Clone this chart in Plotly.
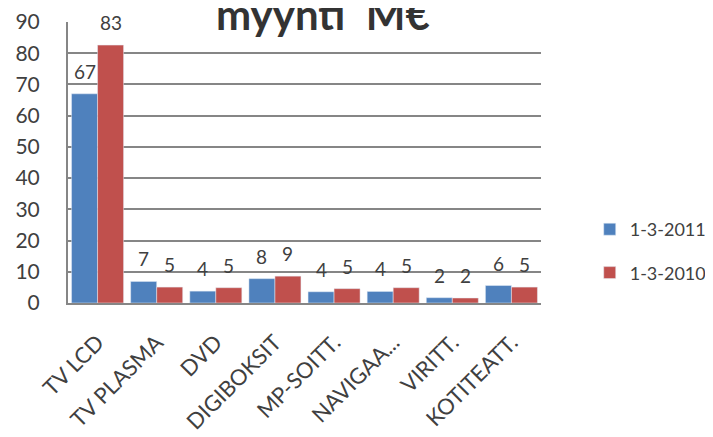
import plotly.graph_objects as go

# Sales by product group, M€
categories = ["TV LCD", "TV PLASMA", "DVD", "DIGIBOKSIT", "MP-SOITT.",
              "NAVIGAA...", "VIRITT.", "KOTITEATT."]
sales_2011 = [67.0, 6.9, 3.8, 7.8, 3.6, 3.7, 1.7, 5.6]
sales_2010 = [82.6, 5.1, 4.9, 8.6, 4.6, 4.9, 1.6, 5.1]
series_names = ["1-3-2011", "1-3-2010"]

FONT = "Lato, 'Open Sans', sans-serif"
TEXT = "#404040"
GRID = "#868686"

fig = go.Figure()
fig.add_trace(go.Bar(x=categories, y=sales_2011, name=series_names[0],
                     marker=dict(color="#4F81BD"), legendgroup="a"))
fig.add_trace(go.Bar(x=categories, y=sales_2010, name=series_names[1],
                     marker=dict(color="#C0504D"), legendgroup="b"))

# value labels above each bar
for vals, shift in [(sales_2011, -13), (sales_2010, 13)]:
    for cat, v in zip(categories, vals):
        fig.add_annotation(x=cat, y=v, text=f"{v:.0f}", showarrow=False,
                           xshift=shift, yshift=9, yanchor="bottom",
                           font=dict(size=19, color=TEXT, family=FONT))

# chart title, sitting on the top gridline like the original
fig.add_annotation(text="<b>myynti  M€</b>", xref="paper", yref="paper",
                   x=0.539, y=1, xanchor="center", yanchor="bottom",
                   yshift=-19, showarrow=False,
                   font=dict(size=42, color="#333333", family=FONT))

fig.update_layout(
    width=713, height=437,
    margin=dict(l=60, r=180, t=14, b=142, autoexpand=False),
    plot_bgcolor="white", paper_bgcolor="white",
    font=dict(family=FONT, color=TEXT),
    barmode="group", bargap=0.12, bargroupgap=0,
    legend=dict(x=1.103, xref="paper", y=0.185, yref="paper",
                yanchor="middle", xanchor="left",
                traceorder="grouped", tracegroupgap=17,
                font=dict(size=18, color=TEXT)),
    showlegend=True,
)
fig.update_yaxes(range=[0, 90], dtick=10, showgrid=True, gridcolor=GRID,
                 gridwidth=1.5, showline=True, linecolor=GRID, linewidth=2,
                 ticks="", ticklabelstandoff=22, automargin=False,
                 tickfont=dict(size=21, color=TEXT), zeroline=False)
fig.update_xaxes(showline=True, linecolor=GRID, linewidth=2, ticks="",
                 tickangle=-45, ticklabelstandoff=16, automargin=False,
                 tickfont=dict(size=22, color=TEXT))

fig.write_html("out.html")
